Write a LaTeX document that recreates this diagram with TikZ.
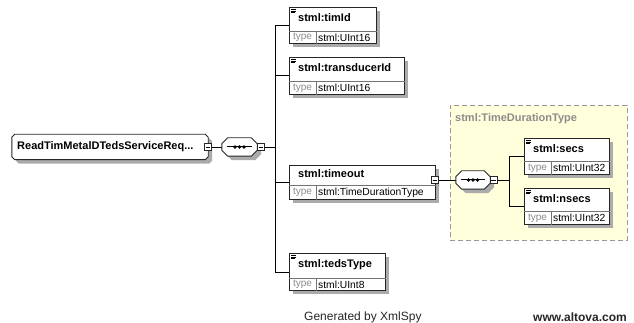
\documentclass[tikz,border=0pt]{standalone}
\usepackage{fontspec}
\setmainfont{Liberation Sans}
\usetikzlibrary{shadows}
\definecolor{paleyellow}{HTML}{FFFFDC}
\definecolor{shadowgray}{HTML}{ABABAB}
\definecolor{labelgray}{HTML}{8C8C8C}
\tikzset{
 conn/.style={line width=0.9pt, draw=black},
 boxshadow/.style={drop shadow={shadow xshift=4pt, shadow yshift=-4pt, fill=shadowgray, opacity=1}},
 elbox/.style={rectangle, draw=black!85, line width=0.9pt, fill=white, inner sep=0pt, anchor=north west, boxshadow},
 namelbl/.style={font=\fontsize{11}{12}\selectfont\bfseries, inner sep=0pt, anchor=west},
 typelbl/.style={font=\fontsize{10}{11}\selectfont, text=labelgray, inner sep=0pt},
 vallbl/.style={font=\fontsize{10.3}{11}\selectfont, inner sep=0pt, anchor=west},
 minusbox/.style={rectangle, draw=black!85, line width=0.8pt, fill=white, minimum size=7pt, inner sep=0pt},
 cellline/.style={draw=black!55, line width=0.6pt},
 compshape/.style={draw=black!85, line width=0.9pt, fill=white, boxshadow},
 footertxt/.style={font=\fontsize{12}{14}\selectfont, inner sep=0pt, text=black!85},
}
% element box: #1 name, #2 x, #3 y, #4 w, #5 h, #6 name-row height, #7 title, #8 type
\newcommand\xelem[8]{%
 \node[elbox, minimum width=#4pt, minimum height=#5pt] (#1) at (#2,#3) {};
 \draw[cellline] ([yshift=-#6pt]#1.north west) -- ([yshift=-#6pt]#1.north east);
 \draw[cellline] ([xshift=27pt,yshift=-#6pt]#1.north west) -- ([xshift=27pt]#1.south west);
 \path ([xshift=13.5pt,yshift=-#6pt]#1.north west) -- ([xshift=13.5pt]#1.south west)
   node[midway, typelbl] (#1-type) {type};
 \path ([xshift=29pt,yshift=-#6pt]#1.north west) -- ([xshift=29pt]#1.south west)
   node[midway, vallbl] (#1-val) {#8};
 \path ([xshift=9pt]#1.north west) -- ([xshift=9pt,yshift=-#6pt]#1.north west)
   node[midway, namelbl, yshift=1pt] (#1-name) {#7};
}
\newcommand\xicon[1]{%
 \draw[line width=0.6pt] ([xshift=2pt,yshift=-2.5pt]#1.north west) -- ++(5,0);
 \draw[line width=0.6pt] ([xshift=2pt,yshift=-4pt]#1.north west) -- ++(5,0);
 \draw[line width=0.6pt] ([xshift=2pt,yshift=-5.5pt]#1.north west) -- ++(4,0);
}
\newcommand\chamfshape[3]{%
 \draw[#3] ([xshift=#2]#1.north west) -- ([xshift=-#2]#1.north east) -- ([yshift=-#2]#1.north east)
   -- ([yshift=#2]#1.south east) -- ([xshift=-#2]#1.south east) -- ([xshift=#2]#1.south west)
   -- ([yshift=#2]#1.south west) -- ([yshift=-#2]#1.north west) -- cycle;
}
\newcommand\seqdots[1]{%
 \draw[line width=1pt] ([xshift=5pt]#1.west) -- ([xshift=-5pt]#1.east);
 \fill ([xshift=-4.5pt]#1.center) circle (1.9pt);
 \fill (#1.center) circle (1.9pt);
 \fill ([xshift=4.5pt]#1.center) circle (1.9pt);
}
\newcommand\minusmark[1]{\draw[line width=0.8pt] ([xshift=1.5pt]#1.west) -- ([xshift=-1.5pt]#1.east);}
\begin{document}
\begin{tikzpicture}[x=1pt,y=-1pt]
\useasboundingbox (0,0) rectangle (634,323);
% complex type frame
\node[draw=black!40, dash pattern=on 5pt off 3pt, fill=paleyellow, line width=0.9pt,
  minimum width=177pt, minimum height=135pt, anchor=north west, inner sep=0pt] (ctype) at (450,105) {};
\node[namelbl, text=labelgray] (ctypelbl) at (455,119) {stml:TimeDurationType};

% connectors of the first level
\coordinate (b1) at (275,147);
\coordinate (b2) at (509,180);

% root
\node[inner sep=0pt, minimum width=196pt, minimum height=25pt] (root) at (110,147) {};
\chamfshape{root}{3pt}{compshape}
\node[namelbl] (rootlbl) at (17,147) {ReadTimMetalDTedsServiceReq...};
\node[minusbox] (rm) at (208,147) {}; \minusmark{rm}

% sequence 1
\node[inner sep=0pt, minimum width=35pt, minimum height=18pt] (seq1) at (239.5,147) {};
\draw[conn] (rm.east) -- (seq1.west);
\chamfshape{seq1}{6pt}{compshape}
\seqdots{seq1}
\node[minusbox] (sm1) at (261,147) {}; \minusmark{sm1}
\draw[conn] (sm1.east) -- (b1);

% elements
\xelem{timId}{289}{7}{87}{36}{24}{stml:timId}{stml:UInt16}
\xicon{timId}
\xelem{transducerId}{289}{57}{115}{37}{24}{stml:transducerId}{stml:UInt16}
\xicon{transducerId}
\xelem{timeout}{289}{165}{146}{34}{20}{stml:timeout}{stml:TimeDurationType}
\xelem{tedsType}{289}{253}{96}{37}{25}{stml:tedsType}{stml:UInt8}
\xicon{tedsType}

\draw[conn] (timId.west) -- (timId.west -| b1) -- (tedsType.west -| b1) -- (tedsType.west);
\draw[conn] (transducerId.west -| b1) -- (transducerId.west);
\draw[conn] (timeout.west -| b1) -- (timeout.west);

% timeout content
\node[minusbox] (tm) at (435,180) {}; \minusmark{tm}
\node[inner sep=0pt, minimum width=34pt, minimum height=18pt] (seq2) at (473,180) {};
\draw[conn] (tm.east) -- (seq2.west);
\chamfshape{seq2}{6pt}{compshape}
\seqdots{seq2}
\node[minusbox] (sm2) at (493.5,180) {}; \minusmark{sm2}
\draw[conn] (sm2.east) -- (b2);

\xelem{secs}{524}{138}{85}{36}{23}{stml:secs}{stml:UInt32}
\xicon{secs}
\xelem{nsecs}{524}{188}{85}{36}{23}{stml:nsecs}{stml:UInt32}
\xicon{nsecs}
\draw[conn] (secs.west) -- (secs.west -| b2) -- (nsecs.west -| b2) -- (nsecs.west);

% footer
\node[footertxt, anchor=west] (gen) at (304,317) {Generated by XmlSpy};
\node[footertxt, anchor=east, font=\fontsize{12}{14}\selectfont\bfseries] (alt) at (627,317) {www.altova.com};
\end{tikzpicture}
\end{document}
